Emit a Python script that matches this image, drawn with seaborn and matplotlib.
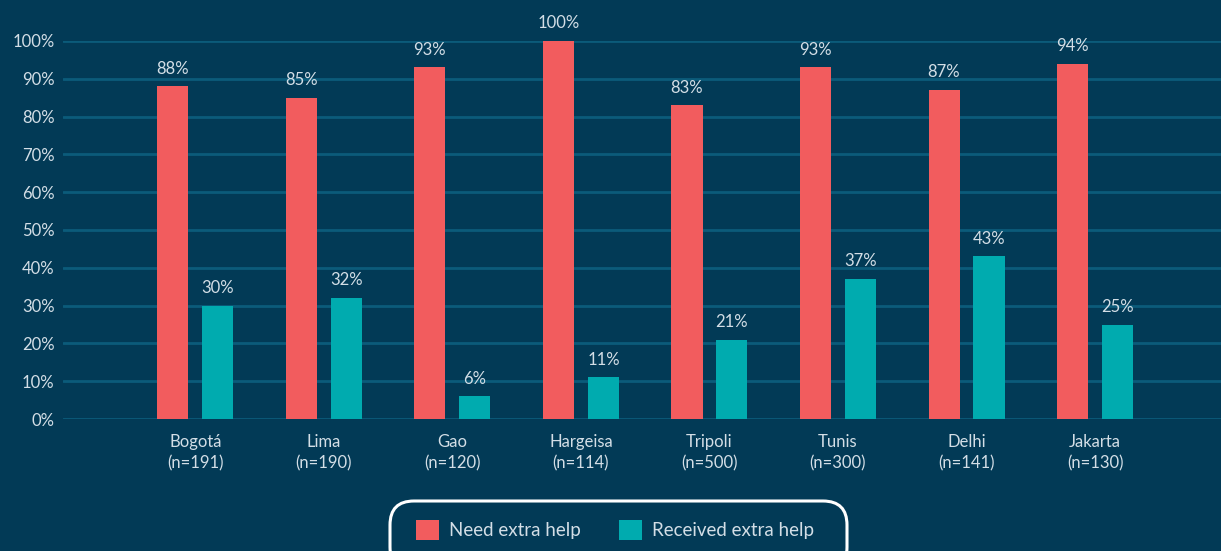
import matplotlib
matplotlib.use("Agg")
import matplotlib.pyplot as plt
import seaborn as sns
import pandas as pd
from matplotlib.patches import FancyBboxPatch, Patch
from matplotlib.transforms import IdentityTransform

# Survey results by city
cities = ["Bogotá", "Lima", "Gao", "Hargeisa", "Tripoli", "Tunis", "Delhi", "Jakarta"]
sample_sizes = [191, 190, 120, 114, 500, 300, 141, 130]
need_help = [88, 85, 93, 100, 83, 93, 87, 94]
received_help = [30, 32, 6, 11, 21, 37, 43, 25]
series_names = ["Need extra help", "Received extra help"]
y_ticks = [0, 10, 20, 30, 40, 50, 60, 70, 80, 90, 100]

BG = "#023a56"
GRID = "#0b5b7a"
TEXT = "#d3dee6"
RED = "#f25c5e"
TEAL = "#00abaf"

sns.set_theme(style="white")
plt.rcParams["font.family"] = ["Lato", "DejaVu Sans"]

df = pd.DataFrame({
    "city": cities * 2,
    "series": [series_names[0]] * len(cities) + [series_names[1]] * len(cities),
    "value": need_help + received_help,
})

fig = plt.figure(figsize=(12.21, 5.51), dpi=100, facecolor=BG)
W, H = 1221, 551
ax = fig.add_axes([63 / W, (H - 419) / H, 1 - 63 / W, 378 / H])
ax.set_facecolor(BG)

sns.barplot(data=df, x="city", y="value", hue="series", order=cities,
            hue_order=series_names, palette=[RED, TEAL], width=0.7, gap=0.31,
            saturation=1, linewidth=0, edgecolor="none", legend=False, ax=ax, zorder=3)

ax.set_ylim(0, 100)
ax.set_xlim(-1.03, 7.98)
ax.set_yticks(y_ticks)
ax.set_yticklabels([f"{t}%" for t in y_ticks])
ax.yaxis.grid(True, color=GRID, linewidth=2, zorder=0)
ax.set_axisbelow(True)
for s in ax.spines.values():
    s.set_visible(False)
ax.tick_params(axis="both", length=0, colors=TEXT, labelsize=12)
ax.tick_params(axis="y", pad=6)
ax.tick_params(axis="x", pad=11)
ax.set_xticks(range(len(cities)))
ax.set_xticklabels([f"{c}\n(n={n})" for c, n in zip(cities, sample_sizes)],
                   linespacing=1.35)
ax.set_xlabel("")
ax.set_ylabel("")

for container in ax.containers:
    ax.bar_label(container, labels=[f"{v:.0f}%" for v in container.datavalues],
                 padding=7, color=TEXT, fontsize=12, clip_on=False)

# Rounded legend frame, in pixel units
frame = FancyBboxPatch((390, H - 571), 457, 70,
                       boxstyle="round,pad=0,rounding_size=24",
                       transform=IdentityTransform(), facecolor="none",
                       edgecolor="white", linewidth=2.2)
fig.patches.append(frame)

handles = [Patch(facecolor=RED, edgecolor="none"), Patch(facecolor=TEAL, edgecolor="none")]
fig.legend(handles, series_names, loc="center", bbox_to_anchor=(615 / W, (H - 530) / H),
           ncol=2, frameon=False, fontsize=13.5, labelcolor=TEXT,
           handlelength=1.25, handleheight=1.25, handletextpad=0.55, columnspacing=2.0)

fig.savefig("out.png", dpi=100, facecolor=BG)
